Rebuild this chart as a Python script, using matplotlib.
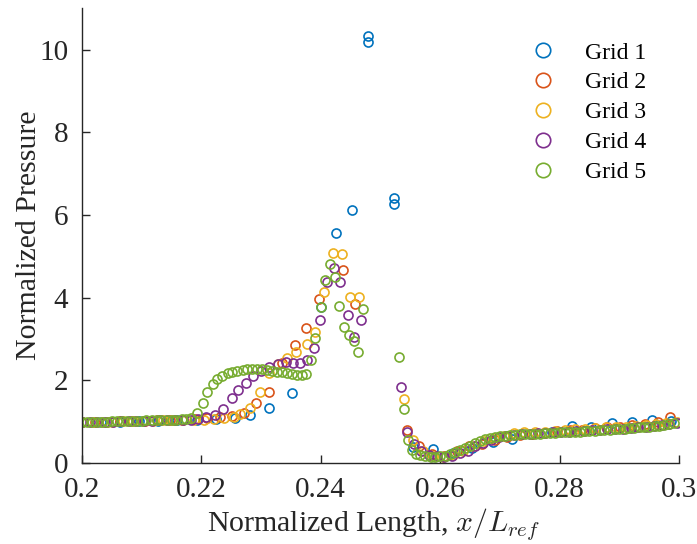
import matplotlib
matplotlib.use("Agg")
import matplotlib.pyplot as plt

# Wall pressure along the ramp for five mesh resolutions
x_grid1 = [0.2000, 0.2032, 0.2064, 0.2096, 0.2128, 0.2160, 0.2192, 0.2224, 0.2256, 0.2282,
           0.2314, 0.2351, 0.2401, 0.2426, 0.2452, 0.2479, 0.2479, 0.2522, 0.2522, 0.2554,
           0.2588, 0.2621, 0.2654, 0.2688, 0.2721, 0.2754, 0.2787, 0.2820, 0.2853, 0.2888,
           0.2921, 0.2954, 0.2987]
p_grid1 = [1.00, 1.00, 1.00, 1.01, 1.02, 1.03, 1.04, 1.06, 1.09, 1.16,
           1.33, 1.68, 3.77, 5.56, 6.11, 10.32, 10.18, 6.40, 6.26, 0.39,
           0.33, 0.25, 0.37, 0.51, 0.58, 0.70, 0.76, 0.90, 0.86, 0.96,
           0.98, 1.05, 1.01]

x_grid2 = [0.2000, 0.2021, 0.2042, 0.2063, 0.2084, 0.2105, 0.2126, 0.2147, 0.2168, 0.2189,
           0.2210, 0.2231, 0.2252, 0.2272, 0.2292, 0.2314, 0.2335, 0.2356, 0.2376, 0.2397,
           0.2437, 0.2457, 0.2544, 0.2565, 0.2586, 0.2607, 0.2628, 0.2649, 0.2670, 0.2691,
           0.2712, 0.2733, 0.2754, 0.2775, 0.2796, 0.2817, 0.2838, 0.2859, 0.2880, 0.2901,
           0.2922, 0.2943, 0.2964, 0.2985]
p_grid2 = [1.00, 1.00, 1.00, 1.01, 1.01, 1.02, 1.03, 1.04, 1.05, 1.06,
           1.08, 1.10, 1.13, 1.21, 1.45, 1.71, 2.42, 2.85, 3.26, 3.96,
           4.66, 3.84, 0.80, 0.42, 0.22, 0.18, 0.30, 0.42, 0.45, 0.55,
           0.62, 0.68, 0.70, 0.72, 0.78, 0.80, 0.80, 0.85, 0.88, 0.88,
           0.92, 0.95, 0.98, 1.10]

x_grid3 = [0.2000, 0.2017, 0.2034, 0.2051, 0.2068, 0.2085, 0.2102, 0.2119, 0.2136, 0.2153,
           0.2170, 0.2187, 0.2204, 0.2221, 0.2238, 0.2255, 0.2265, 0.2282, 0.2299, 0.2314,
           0.2329, 0.2344, 0.2359, 0.2377, 0.2391, 0.2405, 0.2421, 0.2436, 0.2449, 0.2464,
           0.2539, 0.2554, 0.2571, 0.2588, 0.2605, 0.2622, 0.2639, 0.2656, 0.2673, 0.2690,
           0.2707, 0.2724, 0.2741, 0.2758, 0.2775, 0.2792, 0.2809, 0.2826, 0.2843, 0.2860,
           0.2877, 0.2894, 0.2911, 0.2928, 0.2945, 0.2962, 0.2979, 0.2996]
p_grid3 = [1.00, 1.00, 1.00, 1.00, 1.01, 1.01, 1.02, 1.02, 1.03, 1.03,
           1.04, 1.05, 1.05, 1.06, 1.08, 1.12, 1.18, 1.33, 1.71, 2.17,
           2.40, 2.53, 2.68, 2.87, 3.16, 4.13, 5.07, 5.05, 4.01, 4.01,
           1.55, 0.55, 0.28, 0.17, 0.14, 0.20, 0.30, 0.42, 0.52, 0.60,
           0.66, 0.72, 0.74, 0.76, 0.76, 0.78, 0.80, 0.82, 0.82, 0.84,
           0.86, 0.86, 0.88, 0.90, 0.92, 0.94, 0.96, 0.98]

x_grid4 = [0.2000, 0.2013, 0.2026, 0.2039, 0.2052, 0.2065, 0.2078, 0.2091, 0.2104, 0.2117,
           0.2130, 0.2143, 0.2156, 0.2169, 0.2182, 0.2195, 0.2208, 0.2222, 0.2237, 0.2252,
           0.2262, 0.2274, 0.2287, 0.2300, 0.2314, 0.2329, 0.2342, 0.2354, 0.2366, 0.2377,
           0.2388, 0.2399, 0.2410, 0.2422, 0.2432, 0.2445, 0.2456, 0.2467, 0.2534, 0.2544,
           0.2556, 0.2568, 0.2581, 0.2594, 0.2607, 0.2620, 0.2633, 0.2646, 0.2659, 0.2672,
           0.2685, 0.2698, 0.2711, 0.2724, 0.2737, 0.2750, 0.2763, 0.2776, 0.2789, 0.2802,
           0.2815, 0.2828, 0.2841, 0.2854, 0.2867, 0.2880, 0.2893, 0.2906, 0.2919, 0.2932,
           0.2945, 0.2958, 0.2971, 0.2984, 0.2997]
p_grid4 = [1.00, 1.00, 1.00, 1.00, 1.00, 1.01, 1.01, 1.01, 1.02, 1.02,
           1.03, 1.03, 1.04, 1.04, 1.05, 1.06, 1.10, 1.17, 1.30, 1.57,
           1.76, 1.93, 2.10, 2.22, 2.32, 2.40, 2.44, 2.42, 2.42, 2.50,
           2.78, 3.45, 4.37, 4.71, 4.37, 3.57, 3.04, 3.45, 1.84, 0.74,
           0.45, 0.28, 0.20, 0.16, 0.15, 0.18, 0.24, 0.30, 0.40, 0.48,
           0.56, 0.62, 0.66, 0.68, 0.70, 0.71, 0.72, 0.73, 0.74, 0.75,
           0.76, 0.77, 0.78, 0.79, 0.80, 0.81, 0.82, 0.83, 0.84, 0.86,
           0.87, 0.89, 0.91, 0.94, 0.97]

x_grid5 = [0.2000, 0.2008, 0.2017, 0.2025, 0.2033, 0.2042, 0.2050, 0.2058, 0.2067, 0.2075,
           0.2083, 0.2092, 0.2100, 0.2108, 0.2117, 0.2125, 0.2133, 0.2142, 0.2150, 0.2158,
           0.2167, 0.2175, 0.2183, 0.2192, 0.2202, 0.2210, 0.2219, 0.2227, 0.2235, 0.2244,
           0.2252, 0.2260, 0.2269, 0.2277, 0.2285, 0.2294, 0.2302, 0.2310, 0.2319, 0.2327,
           0.2335, 0.2344, 0.2352, 0.2360, 0.2368, 0.2376, 0.2384, 0.2391, 0.2401, 0.2407,
           0.2416, 0.2424, 0.2431, 0.2439, 0.2447, 0.2456, 0.2462, 0.2471, 0.2531, 0.2539,
           0.2546, 0.2553, 0.2559, 0.2567, 0.2575, 0.2584, 0.2592, 0.2600, 0.2609, 0.2617,
           0.2625, 0.2634, 0.2642, 0.2650, 0.2659, 0.2667, 0.2675, 0.2684, 0.2692, 0.2700,
           0.2709, 0.2717, 0.2725, 0.2734, 0.2742, 0.2750, 0.2759, 0.2767, 0.2775, 0.2784,
           0.2792, 0.2800, 0.2809, 0.2817, 0.2825, 0.2834, 0.2842, 0.2850, 0.2859, 0.2867,
           0.2875, 0.2884, 0.2892, 0.2900, 0.2909, 0.2917, 0.2925, 0.2934, 0.2942, 0.2950,
           0.2959, 0.2967, 0.2975, 0.2984, 0.2992]
p_grid5 = [1.00, 1.00, 1.00, 1.00, 1.00, 1.00, 1.01, 1.01, 1.01, 1.01,
           1.02, 1.02, 1.02, 1.03, 1.03, 1.03, 1.04, 1.04, 1.05, 1.05,
           1.06, 1.07, 1.09, 1.20, 1.45, 1.71, 1.90, 2.03, 2.10, 2.17,
           2.20, 2.22, 2.25, 2.27, 2.27, 2.27, 2.27, 2.25, 2.22, 2.20,
           2.20, 2.17, 2.15, 2.13, 2.13, 2.15, 2.50, 3.02, 3.77, 4.42,
           4.81, 4.49, 3.79, 3.29, 3.09, 2.95, 2.68, 3.72, 2.56, 1.30,
           0.56, 0.31, 0.22, 0.19, 0.17, 0.15, 0.15, 0.16, 0.18, 0.22,
           0.26, 0.31, 0.36, 0.42, 0.48, 0.53, 0.58, 0.61, 0.63, 0.65,
           0.66, 0.67, 0.68, 0.69, 0.70, 0.70, 0.71, 0.71, 0.72, 0.72,
           0.73, 0.74, 0.74, 0.75, 0.76, 0.76, 0.77, 0.78, 0.78, 0.79,
           0.80, 0.80, 0.81, 0.82, 0.83, 0.84, 0.85, 0.86, 0.87, 0.88,
           0.89, 0.90, 0.92, 0.94, 0.96]

series = [
    ("Grid 1", x_grid1, p_grid1, "#0072BD"),
    ("Grid 2", x_grid2, p_grid2, "#D95319"),
    ("Grid 3", x_grid3, p_grid3, "#EDB120"),
    ("Grid 4", x_grid4, p_grid4, "#7E2F8E"),
    ("Grid 5", x_grid5, p_grid5, "#77AC30"),
]

plt.rcParams["font.family"] = "Liberation Serif"
plt.rcParams["mathtext.fontset"] = "cm"

fig = plt.figure(figsize=(6.97, 5.44), dpi=100)
ax = fig.add_axes([0.1176, 0.149, 0.8566, 0.836])

for label, xs, ps, color in series:
    ax.plot(xs, ps, linestyle="none", marker="o", markersize=6.5,
            markerfacecolor="none", markeredgecolor=color, markeredgewidth=1.2,
            label=label)

ax.set_xlim(0.2, 0.3)
ax.set_ylim(0, 11)
ax.set_xticks([0.2, 0.22, 0.24, 0.26, 0.28, 0.3])
ax.set_xticklabels(["0.2", "0.22", "0.24", "0.26", "0.28", "0.3"])
ax.set_yticks([0, 2, 4, 6, 8, 10])

for side in ("top", "right"):
    ax.spines[side].set_visible(False)
for side in ("left", "bottom"):
    ax.spines[side].set_color("#262626")
    ax.spines[side].set_linewidth(1.0)
ax.tick_params(direction="in", length=6, width=1.0, colors="#262626",
               labelsize=21, labelcolor="#262626", pad=10)

ax.set_xlabel(r"Normalized Length, $x/L_{ref}$", fontsize=21.5, color="#262626")
ax.set_ylabel("Normalized Pressure", fontsize=21.5, color="#262626")
ax.xaxis.set_label_coords(0.4875, -0.094)
ax.yaxis.set_label_coords(-0.067, 0.5)

leg = ax.legend(loc="upper right", bbox_to_anchor=(0.98, 0.972), frameon=False,
                fontsize=17, markerscale=1.6, handletextpad=1.0,
                labelspacing=0.35, handlelength=1.5)

fig.savefig("out.png", dpi=100)
